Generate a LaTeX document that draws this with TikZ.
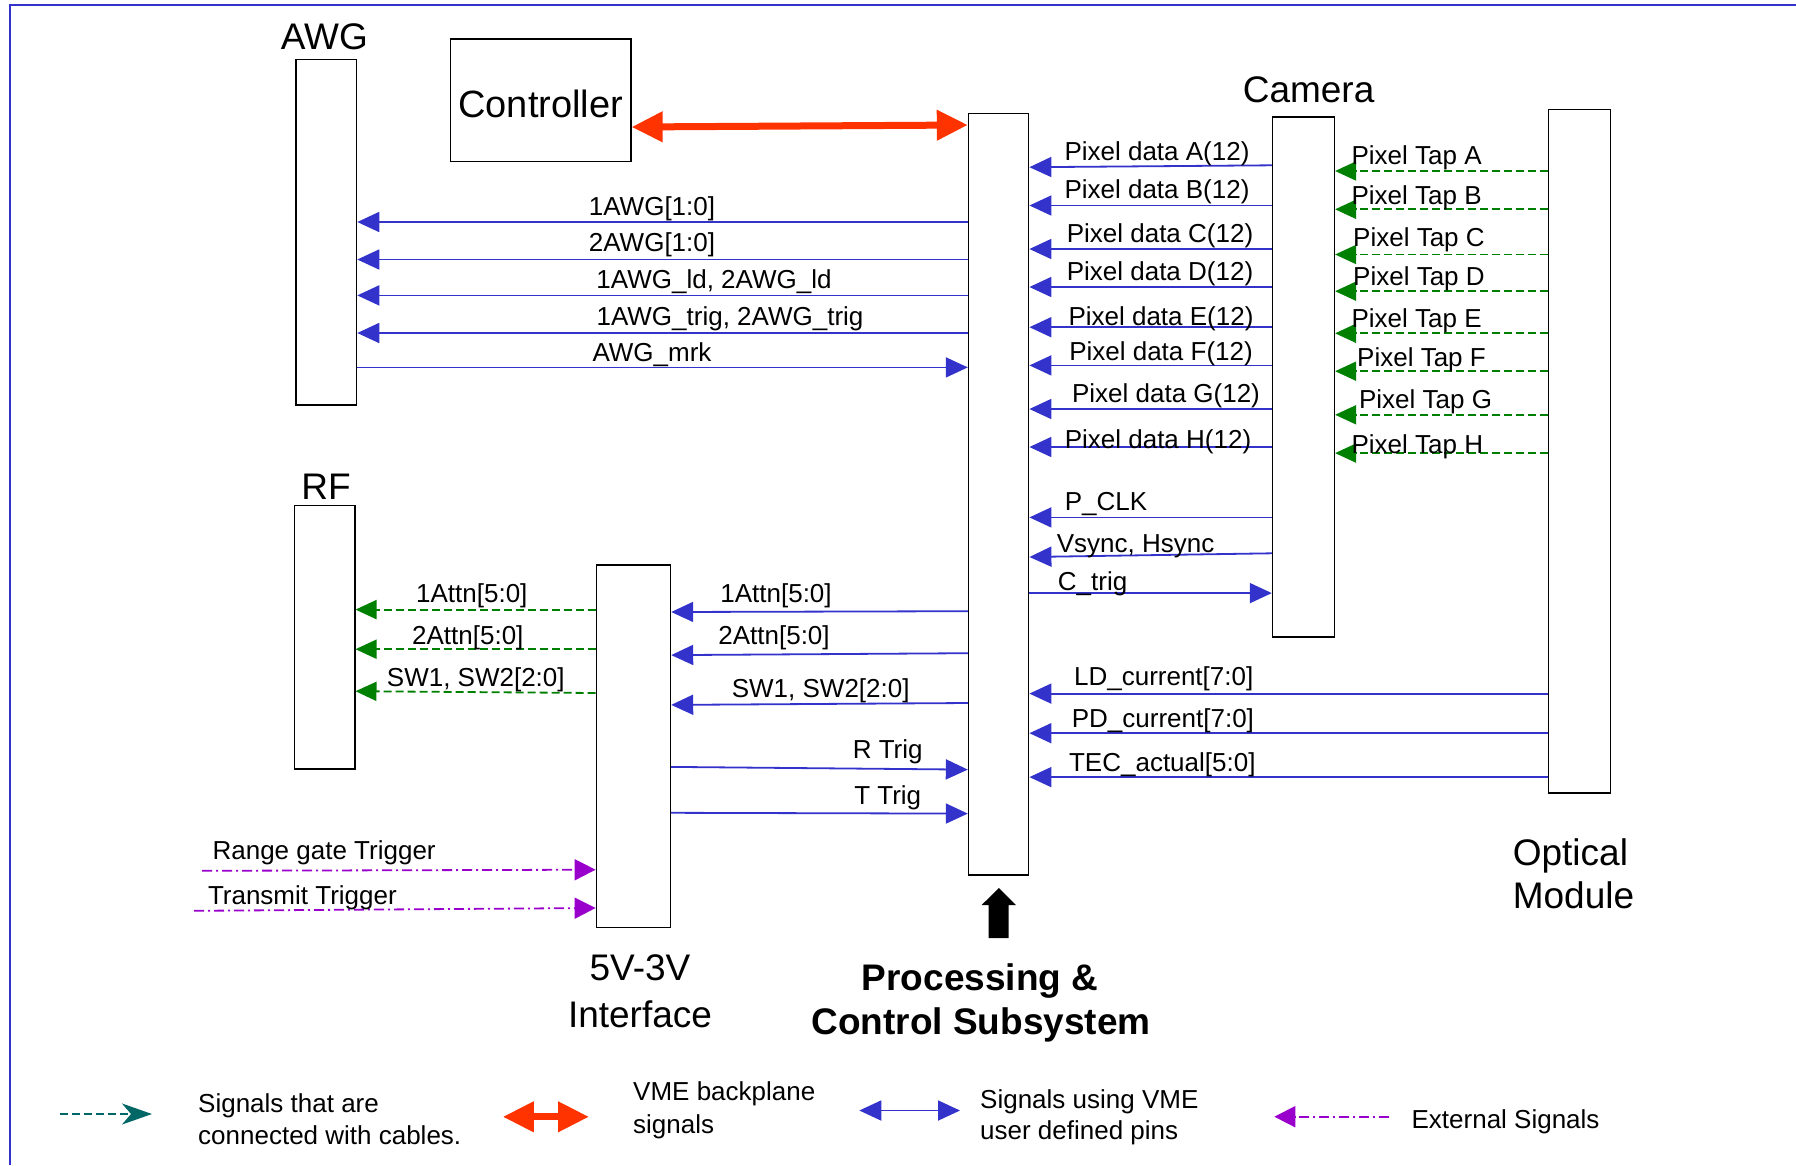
\documentclass[tikz,border=0pt]{standalone}
\usepackage{fontspec}
\setmainfont{Liberation Sans}
\usetikzlibrary{arrows.meta}
\definecolor{vblue}{RGB}{51,51,204}
\definecolor{cgreen}{RGB}{0,128,0}
\definecolor{vred}{RGB}{255,51,0}
\definecolor{vmag}{RGB}{153,0,204}
\definecolor{cteal}{RGB}{0,102,102}
\begin{document}
\begin{tikzpicture}[x=1pt,y=-1pt,
  box/.style={draw=black, line width=1.6pt, inner sep=0pt},
  lbl/.style={font=\fontsize{26}{30}\selectfont, inner sep=0pt},
  big/.style={font=\fontsize{37}{44}\selectfont, inner sep=0pt},
  bigb/.style={font=\fontsize{37}{44}\selectfont\bfseries, inner sep=0pt},
  sigb/.style={draw=vblue, line width=1.8pt, -{Triangle[length=22pt,width=20pt]}},
  cab/.style={draw=cgreen, line width=1.8pt, dash pattern=on 8pt off 4pt, -{Triangle[length=21pt,width=19pt]}},
  ext/.style={draw=vmag, line width=1.8pt, dash pattern=on 10pt off 4pt on 2pt off 4pt, -{Triangle[length=21pt,width=21pt]}},
  vme/.style={draw=vred, line width=7pt, {Triangle[length=31pt,width=29pt]}-{Triangle[length=31pt,width=29pt]}},
  frame/.style={draw=vblue, line width=2pt}
]
\useasboundingbox (0,0) rectangle (1796,1165);
% frame
\coordinate (fa) at (10,1165);
\coordinate (fb) at (10,5);
\coordinate (fc) at (1796,5);
\draw[frame] (fa) -- (fb) -- (fc);

% boxes
\node[box, minimum width=60.3pt, minimum height=345.6pt] (awg) at (326.35,232.1) {};
\node[box, minimum width=180.2pt, minimum height=122.5pt, font=\fontsize{38}{44}\selectfont, text height=35pt, text depth=0pt] (ctrl) at (540.7,100.25) {Controller};
\node[box, minimum width=60pt, minimum height=761.5pt] (proc) at (998.6,494.05) {};
\node[box, minimum width=61.7pt, minimum height=519.7pt] (cam) at (1303.45,376.85) {};
\node[box, minimum width=61.7pt, minimum height=683.8pt] (opt) at (1579.45,451.3) {};
\node[box, minimum width=74pt, minimum height=362.4pt] (ifc) at (633.4,746.1) {};
\node[box, minimum width=60.2pt, minimum height=263.4pt] (rf) at (324.6,637.2) {};

% titles
\node[big, anchor=base] (tawg) at (324.3,49.6) {AWG};
\node[big, anchor=base] (trf) at (326,499.9) {RF};
\node[big, anchor=base] (tcam) at (1308.6,102) {Camera};
\node[big, anchor=base] (tifca) at (640,980.9) {5V-3V};
\node[big, anchor=base] (tifcb) at (640,1027.2) {Interface};
\node[big, anchor=base west] (topta) at (1512.6,865.2) {Optical};
\node[big, anchor=base west] (toptb) at (1512.6,908.4) {Module};
\node[bigb, anchor=base] (tproca) at (980,990.7) {Processing \&};
\node[bigb, anchor=base] (tprocb) at (981,1034) {Control Subsystem};

% black pointer arrow
\fill[black] (981.7,905) -- (998.8,888) -- (1016,905) -- (1008.6,905) -- (1008.6,938) -- (988.6,938) -- (988.6,905) -- cycle;

% VME backplane
\draw[vme] (ctrl.east |- 0,127) -- (proc.west |- 0,125);

% AWG signals
\draw[sigb] (proc.west |- 0,222) -- (awg.east |- 0,222);
\draw[sigb] (proc.west |- 0,259.5) -- (awg.east |- 0,259.5);
\draw[sigb] (proc.west |- 0,295.4) -- (awg.east |- 0,295.4);
\draw[sigb] (proc.west |- 0,333) -- (awg.east |- 0,333);
\draw[sigb] (awg.east |- 0,367.4) -- (proc.west |- 0,367.4);
\node[lbl, anchor=base] (l1awg) at (652,215.3) {1AWG[1:0]};
\node[lbl, anchor=base] (l2awg) at (652,251.3) {2AWG[1:0]};
\node[lbl, anchor=base] (lawgld) at (714,288.7) {1AWG\_ld, 2AWG\_ld};
\node[lbl, anchor=base] (lawgtr) at (730,325.3) {1AWG\_trig, 2AWG\_trig};
\node[lbl, anchor=base] (lawgmk) at (652,361.3) {AWG\_mrk};

% camera data
\draw[sigb] (cam.west |- 0,165.3) -- (proc.east |- 0,167.2);
\draw[sigb] (cam.west |- 0,205.5) -- (proc.east |- 0,205.5);
\draw[sigb] (cam.west |- 0,249) -- (proc.east |- 0,249);
\draw[sigb] (cam.west |- 0,287) -- (proc.east |- 0,287);
\draw[sigb] (cam.west |- 0,327.2) -- (proc.east |- 0,327.2);
\draw[sigb] (cam.west |- 0,365.4) -- (proc.east |- 0,365.4);
\draw[sigb] (cam.west |- 0,409) -- (proc.east |- 0,409);
\draw[sigb] (cam.west |- 0,447) -- (proc.east |- 0,447);
\draw[sigb] (cam.west |- 0,517.4) -- (proc.east |- 0,517.4);
\draw[sigb] (cam.west |- 0,553.3) -- (proc.east |- 0,557);
\draw[sigb] (proc.east |- 0,593.1) -- (cam.west |- 0,593.1);
\node[lbl, anchor=base] (lpa) at (1157,160.3) {Pixel data A(12)};
\node[lbl, anchor=base] (lpb) at (1157,198.7) {Pixel data B(12)};
\node[lbl, anchor=base] (lpc) at (1160,242.7) {Pixel data C(12)};
\node[lbl, anchor=base] (lpd) at (1160,280.3) {Pixel data D(12)};
\node[lbl, anchor=base] (lpe) at (1161,325) {Pixel data E(12)};
\node[lbl, anchor=base] (lpf) at (1161,360.6) {Pixel data F(12)};
\node[lbl, anchor=base] (lpg) at (1166,402.7) {Pixel data G(12)};
\node[lbl, anchor=base] (lph) at (1158,448.6) {Pixel data H(12)};
\node[lbl, anchor=base west] (lpclk) at (1064.6,510.6) {P\_CLK};
\node[lbl, anchor=base west] (lsync) at (1056.6,552.7) {Vsync, Hsync};
\node[lbl, anchor=base west] (lctrig) at (1057.7,590.9) {C\_trig};

% pixel taps
\draw[cab] (opt.west |- 0,171) -- (cam.east |- 0,171);
\draw[cab] (opt.west |- 0,209.3) -- (cam.east |- 0,209.3);
\draw[cab] (opt.west |- 0,254.5) -- (cam.east |- 0,254.5);
\draw[cab] (opt.west |- 0,291.2) -- (cam.east |- 0,291.2);
\draw[cab] (opt.west |- 0,333.3) -- (cam.east |- 0,333.3);
\draw[cab] (opt.west |- 0,371.2) -- (cam.east |- 0,371.2);
\draw[cab] (opt.west |- 0,414.8) -- (cam.east |- 0,414.8);
\draw[cab] (opt.west |- 0,453.1) -- (cam.east |- 0,453.1);
\node[lbl, anchor=base west] (lta) at (1351.4,164.3) {Pixel Tap A};
\node[lbl, anchor=base west] (ltb) at (1351.4,204.5) {Pixel Tap B};
\node[lbl, anchor=base west] (ltc) at (1353,246.6) {Pixel Tap C};
\node[lbl, anchor=base west] (ltd) at (1353,285.6) {Pixel Tap D};
\node[lbl, anchor=base west] (lte) at (1351.4,327.7) {Pixel Tap E};
\node[lbl, anchor=base west] (ltf) at (1357,366.3) {Pixel Tap F};
\node[lbl, anchor=base west] (ltg) at (1358.9,408.4) {Pixel Tap G};
\node[lbl, anchor=base west] (lth) at (1351.4,453.2) {Pixel Tap H};

% optical module to processing
\draw[sigb] (opt.west |- 0,693.6) -- (proc.east |- 0,693.6);
\draw[sigb] (opt.west |- 0,733.2) -- (proc.east |- 0,733.2);
\draw[sigb] (opt.west |- 0,777.1) -- (proc.east |- 0,777.1);
\node[lbl, anchor=base] (lld) at (1163.7,685.6) {LD\_current[7:0]};
\node[lbl, anchor=base] (lpd2) at (1162.9,727.2) {PD\_current[7:0]};
\node[lbl, anchor=base] (ltec) at (1162.3,771.1) {TEC\_actual[5:0]};

% processing <-> interface
\draw[sigb] (proc.west |- 0,611.2) -- (ifc.east |- 0,612);
\draw[sigb] (proc.west |- 0,653.2) -- (ifc.east |- 0,655.1);
\draw[sigb] (proc.west |- 0,703) -- (ifc.east |- 0,704.9);
\draw[sigb] (ifc.east |- 0,766.9) -- (proc.west |- 0,769.6);
\draw[sigb] (ifc.east |- 0,812.8) -- (proc.west |- 0,813.6);
\node[lbl, anchor=base] (lb1at) at (776,602.4) {1Attn[5:0]};
\node[lbl, anchor=base] (lb2at) at (774,644.8) {2Attn[5:0]};
\node[lbl, anchor=base] (lbsw) at (820.7,697.7) {SW1, SW2[2:0]};
\node[lbl, anchor=base] (lrtr) at (887.7,758.3) {R Trig};
\node[lbl, anchor=base] (lttr) at (887.7,804.3) {T Trig};

% interface -> RF
\draw[cab] (ifc.west |- 0,609.6) -- (rf.east |- 0,609.6);
\draw[cab] (ifc.west |- 0,649.2) -- (rf.east |- 0,649.2);
\draw[cab] (ifc.west |- 0,693) -- (rf.east |- 0,691.2);
\node[lbl, anchor=base] (lg1at) at (471.8,602.4) {1Attn[5:0]};
\node[lbl, anchor=base] (lg2at) at (467.8,644.8) {2Attn[5:0]};
\node[lbl, anchor=base] (lgsw) at (475.8,686.8) {SW1, SW2[2:0]};

% external triggers
\coordinate (rgs) at (202,870.8);
\coordinate (tts) at (194,910.8);
\draw[ext] (rgs) -- (ifc.west |- 0,869.7);
\draw[ext] (tts) -- (ifc.west |- 0,908);
\node[lbl, anchor=base west] (lrg) at (212.4,859.3) {Range gate Trigger};
\node[lbl, anchor=base west] (ltt) at (207.8,904.5) {Transmit Trigger};

% legend
\coordinate (la1) at (60.3,1114);
\coordinate (la2) at (152,1114);
\draw[draw=cteal, line width=1.8pt, dash pattern=on 8pt off 4pt, -{Stealth[length=30pt,width=21pt,inset=9pt]}, cteal] (la1) -- (la2);
\node[lbl, anchor=base west] (lga) at (198,1112.3) {Signals that are};
\node[lbl, anchor=base west] (lgb) at (198,1144.5) {connected with cables.};
\coordinate (lb1) at (502.8,1116.8);
\coordinate (lb2) at (589,1116.8);
\draw[vme] (lb1) -- (lb2);
\node[lbl, anchor=base west] (lgc) at (633,1100.6) {VME backplane};
\node[lbl, anchor=base west] (lgd) at (633,1133.1) {signals};
\coordinate (lc1) at (859.3,1110.5);
\coordinate (lc2) at (960,1110.5);
\draw[sigb, {Triangle[length=22pt,width=20pt]}-{Triangle[length=22pt,width=20pt]}] (lc1) -- (lc2);
\node[lbl, anchor=base west] (lge) at (980,1108.4) {Signals using VME};
\node[lbl, anchor=base west] (lgf) at (980,1139.8) {user defined pins};
\coordinate (ld1) at (1389,1116.7);
\coordinate (ld2) at (1274.3,1116.7);
\draw[ext] (ld1) -- (ld2);
\node[lbl, anchor=base west] (lgg) at (1411.4,1128) {External Signals};
\end{tikzpicture}
\end{document}
